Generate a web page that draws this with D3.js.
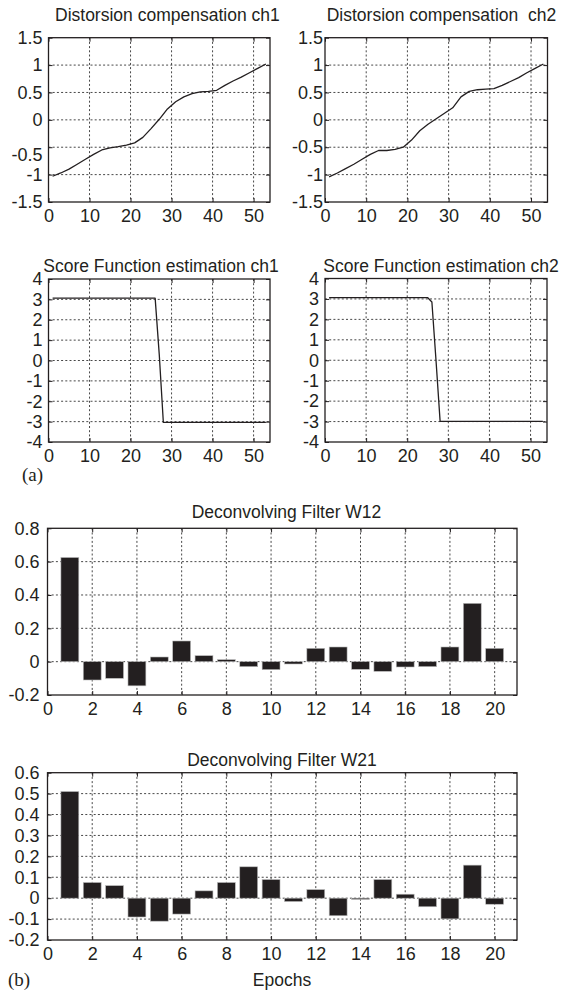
<!DOCTYPE html>
<html>
<head>
<meta charset="utf-8">
<script src="https://cdn.jsdelivr.net/npm/d3@7"></script>
<style>
  html, body { margin: 0; padding: 0; background: #fff; }
  svg { display: block; }
  text { font-family: "Liberation Sans", Arial, Helvetica, sans-serif; fill: #231f20; }
  text.serif { font-family: "Liberation Serif", "Times New Roman", serif; }
</style>
</head>
<body>
<svg id="chart" width="567" height="995"></svg>
<script>
// ---------------- DATA ----------------
// Distortion compensation curves (x = sample index, y = value)
const distX = [1,3,5,7,9,11,13,15,17,19,21,23,25,27,29,31,33,35,37,39,41,43,45,47,49,51,53];
const distCh1 = [-1.03,-0.97,-0.90,-0.81,-0.72,-0.63,-0.55,-0.51,-0.49,-0.46,-0.42,-0.32,-0.16,0.01,0.20,0.33,0.42,0.48,0.51,0.52,0.54,0.63,0.71,0.78,0.86,0.94,1.02];
const distCh2 = [-1.04,-0.97,-0.89,-0.81,-0.72,-0.63,-0.56,-0.56,-0.54,-0.50,-0.37,-0.20,-0.08,0.02,0.12,0.22,0.42,0.52,0.55,0.56,0.57,0.63,0.70,0.77,0.86,0.94,1.02];

// Score function estimation
const scoreX1 = [1, 26, 27, 28, 53];
const scoreCh1 = [3.06, 3.06, 0.3, -3.04, -3.04];
const scoreX2 = [1, 25, 26, 27, 28, 53];
const scoreCh2 = [3.06, 3.06, 2.85, 0.0, -2.99, -2.99];

// Deconvolving filters (taps 1..20)
const taps = d3.range(1, 21);
const w12 = [0.625,-0.11,-0.10,-0.145,0.028,0.124,0.036,0.012,-0.03,-0.048,-0.014,0.08,0.088,-0.046,-0.058,-0.032,-0.03,0.088,0.35,0.08];
const w21 = [0.51,0.075,0.06,-0.09,-0.11,-0.076,0.035,0.075,0.15,0.089,-0.016,0.041,-0.084,-0.005,0.089,0.019,-0.041,-0.099,0.158,-0.029];

// Tick values
const xTicksTop = [0,10,20,30,40,50];
const yTicksDist = [-1.5,-1,-0.5,0,0.5,1,1.5];
const yTicksScore = [-4,-3,-2,-1,0,1,2,3,4];
const xTicksBar = [0,2,4,6,8,10,12,14,16,18,20];
const yTicksW12 = [-0.2,0,0.2,0.4,0.6,0.8];
const yTicksW21 = [-0.2,-0.1,0,0.1,0.2,0.3,0.4,0.5,0.6];

// Titles
const titles = {
  d1: "Distorsion compensation ch1",
  d2: "Distorsion compensation  ch2",
  s1: "Score Function estimation ch1",
  s2: "Score Function estimation ch2",
  w12: "Deconvolving Filter W12",
  w21: "Deconvolving Filter W21"
};

// ---------------- DRAW ----------------
const svg = d3.select("#chart");
const ink = "#231f20";
const tickFont = 18;
const fmt = d => String(+d.toFixed(2));

function panel(cfg) {
  const x = d3.scaleLinear().domain(cfg.xDomain).range([cfg.left, cfg.right]);
  const y = d3.scaleLinear().domain(cfg.yDomain).range([cfg.bottom, cfg.top]);
  const g = svg.append("g");

  // grid
  g.append("g").selectAll("line").data(cfg.xTicks.filter(v => v > cfg.xDomain[0] && v < cfg.xDomain[1]))
    .join("line")
    .attr("x1", d => x(d)).attr("x2", d => x(d))
    .attr("y1", cfg.top).attr("y2", cfg.bottom)
    .attr("stroke", "#333").attr("stroke-width", 0.9).attr("stroke-dasharray", "2,2.2");
  g.append("g").selectAll("line").data(cfg.yTicks.filter(v => v > cfg.yDomain[0] && v < cfg.yDomain[1]))
    .join("line")
    .attr("x1", cfg.left).attr("x2", cfg.right)
    .attr("y1", d => y(d)).attr("y2", d => y(d))
    .attr("stroke", "#333").attr("stroke-width", 0.9).attr("stroke-dasharray", "2,2.2");

  // axes (labels + inward ticks)
  const tl = 4;
  const ax = g.append("g").attr("transform", `translate(0,${cfg.bottom})`)
    .call(d3.axisBottom(x).tickValues(cfg.xTicks).tickSize(-tl).tickPadding(cfg.xPad || 7).tickFormat(fmt));
  ax.select(".domain").remove();
  ax.selectAll("text").attr("font-size", tickFont).style("fill", ink)
    .attr("font-family", '"Liberation Sans", Arial, sans-serif');
  ax.selectAll("line").attr("stroke", ink);

  const ay = g.append("g").attr("transform", `translate(${cfg.left},0)`)
    .call(d3.axisLeft(y).tickValues(cfg.yTicks).tickSize(-tl).tickPadding(cfg.yPad || 6).tickFormat(fmt));
  ay.select(".domain").remove();
  ay.selectAll("text").attr("font-size", tickFont).style("fill", ink)
    .attr("font-family", '"Liberation Sans", Arial, sans-serif');
  ay.selectAll("line").attr("stroke", ink);

  const at = g.append("g").attr("transform", `translate(0,${cfg.top})`)
    .call(d3.axisTop(x).tickValues(cfg.xTicks).tickSize(-tl).tickFormat(""));
  at.select(".domain").remove();
  at.selectAll("line").attr("stroke", ink);
  const ar = g.append("g").attr("transform", `translate(${cfg.right},0)`)
    .call(d3.axisRight(y).tickValues(cfg.yTicks).tickSize(-tl).tickFormat(""));
  ar.select(".domain").remove();
  ar.selectAll("line").attr("stroke", ink);

  return { g, x, y, ay };
}

function frame(p, cfg) {
  p.g.append("rect")
    .attr("x", cfg.left).attr("y", cfg.top)
    .attr("width", cfg.right - cfg.left).attr("height", cfg.bottom - cfg.top)
    .attr("fill", "none").attr("stroke", ink).attr("stroke-width", 1.3);
}

function title(txt, xPos, yPos, anchor) {
  svg.append("text").attr("x", xPos).attr("y", yPos)
    .attr("text-anchor", anchor).attr("font-size", 17.5)
    .style("white-space", "pre").attr("xml:space", "preserve")
    .text(txt);
}

function linePanel(cfg, xs, ys) {
  const p = panel(cfg);
  const pts = xs.map((v, i) => [v, ys[i]]);
  p.g.append("path").datum(pts)
    .attr("d", d3.line().x(d => p.x(d[0])).y(d => p.y(d[1])))
    .attr("fill", "none").attr("stroke", ink).attr("stroke-width", 1.3)
    .attr("stroke-linejoin", "round");
  frame(p, cfg);
  return p;
}

function barPanel(cfg, xs, ys) {
  const p = panel(cfg);
  const bw = 0.8;
  p.g.append("g").selectAll("rect").data(xs.map((v, i) => [v, ys[i]]))
    .join("rect")
    .attr("x", d => p.x(d[0] - bw / 2))
    .attr("width", d => p.x(d[0] + bw / 2) - p.x(d[0] - bw / 2))
    .attr("y", d => p.y(Math.max(0, d[1])))
    .attr("height", d => Math.max(1.2, Math.abs(p.y(d[1]) - p.y(0))))
    .attr("fill", ink).attr("stroke", "#bbb").attr("stroke-width", 0.6);
  frame(p, cfg);
  return p;
}

// Top row: distortion compensation
const cfgD1 = { left: 48.5, right: 270, top: 37.7, bottom: 202, xDomain: [0, 54], yDomain: [-1.5, 1.5], xTicks: xTicksTop, yTicks: yTicksDist, yPad: 6 };
const cfgD2 = { left: 325, right: 547.5, top: 37.7, bottom: 202, xDomain: [0, 54], yDomain: [-1.5, 1.5], xTicks: xTicksTop, yTicks: yTicksDist, yPad: 2 };
const pD1 = linePanel(cfgD1, distX, distCh1);
// the reference prints the "-0.5" label of ch1 slightly below its grid line
pD1.ay.selectAll("text").filter(d => d === -0.5).attr("dy", "0.76em");
linePanel(cfgD2, distX, distCh2);
title(titles.d1, 55, 20.7, "start");
title(titles.d2, 326.7, 20.7, "start");

// Second row: score functions
const cfgS1 = { left: 48.5, right: 270, top: 279, bottom: 442, xDomain: [0, 54], yDomain: [-4, 4], xTicks: xTicksTop, yTicks: yTicksScore, yPad: 6 };
const cfgS2 = { left: 325, right: 547, top: 278.5, bottom: 442, xDomain: [0, 54], yDomain: [-4, 4], xTicks: xTicksTop, yTicks: yTicksScore, yPad: 6 };
linePanel(cfgS1, scoreX1, scoreCh1);
linePanel(cfgS2, scoreX2, scoreCh2);
title(titles.s1, 43.3, 272, "start");
title(titles.s2, 323.3, 272, "start");

svg.append("text").attr("class", "serif").attr("x", 22).attr("y", 481)
  .attr("font-size", 19).style("font-family", '"Liberation Serif", "Times New Roman", serif').text("(a)");

// Bar charts
const cfgW12 = { left: 47.5, right: 517, top: 528.3, bottom: 695, xDomain: [0, 21], yDomain: [-0.2, 0.8], xTicks: xTicksBar, yTicks: yTicksW12, yPad: 8 };
const cfgW21 = { left: 47.5, right: 517, top: 772.7, bottom: 940, xDomain: [0, 21], yDomain: [-0.2, 0.6], xTicks: xTicksBar, yTicks: yTicksW21, yPad: 8 };
barPanel(cfgW12, taps, w12);
barPanel(cfgW21, taps, w21);
title(titles.w12, 286.5, 517.5, "middle");
title(titles.w21, 282, 765.5, "middle");

svg.append("text").attr("x", 282).attr("y", 986).attr("text-anchor", "middle")
  .attr("font-size", 17.5).text("Epochs");
svg.append("text").attr("class", "serif").attr("x", 8).attr("y", 986)
  .attr("font-size", 19).style("font-family", '"Liberation Serif", "Times New Roman", serif').text("(b)");
</script>
</body>
</html>
